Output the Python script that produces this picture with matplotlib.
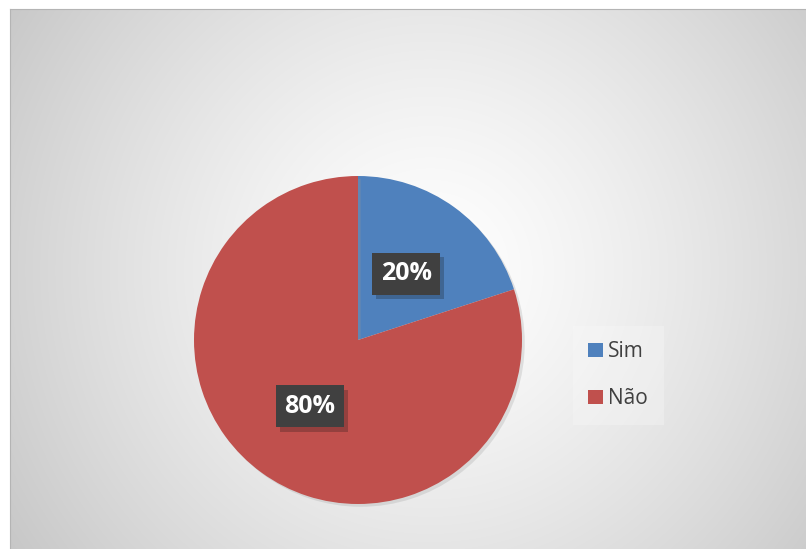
import numpy as np
import matplotlib.pyplot as plt
from matplotlib import patheffects as pe
from matplotlib.patches import Patch

labels = ['Sim', 'Não']
values = [20, 80]
colors = ['#4F81BD', '#C0504D']

W, H = 806, 549
fig = plt.figure(figsize=(W / 100, H / 100), dpi=100)
fig.patch.set_facecolor('white')

# chart area with radial gradient background
x0, y0 = 10, 9  # top-left of chart area in pixels
bg = fig.add_axes([x0 / W, 0, (W - x0) / W, (H - y0) / H])
yy, xx = np.mgrid[y0:H, x0:W]
r = np.hypot(xx - 430, yy - 270)
rmax = np.hypot(430 - x0, 270 - y0) * 1.05
t = np.clip(r / rmax, 0, 1)
g = 255 - 58 * t ** 1.3
bg.imshow(np.dstack([g, g, g]).astype(np.uint8), aspect='auto', interpolation='bilinear')
bg.set_xticks([])
bg.set_yticks([])
for s in bg.spines.values():
    s.set_visible(False)
bg.spines['top'].set_visible(True)
bg.spines['left'].set_visible(True)
bg.spines['top'].set_color('#b4b4b4')
bg.spines['left'].set_color('#b4b4b4')

# pie
cx, cy, rad = 358, 340, 164
ax = fig.add_axes([(cx - rad) / W, (H - cy - rad) / H, 2 * rad / W, 2 * rad / H])
ax.set_facecolor('none')
wedges, texts, autotexts = ax.pie(values, colors=colors, startangle=90, counterclock=False,
                                  autopct='%1.0f%%', pctdistance=0.5,
                                  textprops=dict(color='white', fontsize=18, fontweight='bold',
                                                 family='Open Sans'))
ax.set_xlim(-1, 1)
ax.set_ylim(-1, 1)
for w in wedges:
    w.set_path_effects([pe.SimplePatchShadow(offset=(2, -2), shadow_rgbFace='#999999', alpha=0.25),
                        pe.Normal()])
for at in autotexts:
    at.set_bbox(dict(boxstyle='square,pad=0.34', facecolor='#404040', edgecolor='none'))
    at.get_bbox_patch().set_path_effects([pe.SimplePatchShadow(offset=(3, -3), alpha=0.25),
                                          pe.Normal()])

handles = [Patch(facecolor=c, edgecolor='none') for c in colors]
leg = fig.legend(handles, labels, loc='upper left', bbox_transform=fig.transFigure,
                 bbox_to_anchor=(579 / W, 1 - 332 / H), frameon=True,
                 prop=dict(family='Open Sans', size=15),
                 handlelength=0.7, handleheight=0.7, handletextpad=0.25,
                 labelspacing=1.25, borderpad=0.45, borderaxespad=0)
leg.get_frame().set_facecolor('#fafafa')
leg.get_frame().set_alpha(0.3)
leg.get_frame().set_edgecolor('none')
leg.get_frame().set_boxstyle('square')
for txt in leg.get_texts():
    txt.set_color('#404040')

fig.savefig('out.png', dpi=100)
